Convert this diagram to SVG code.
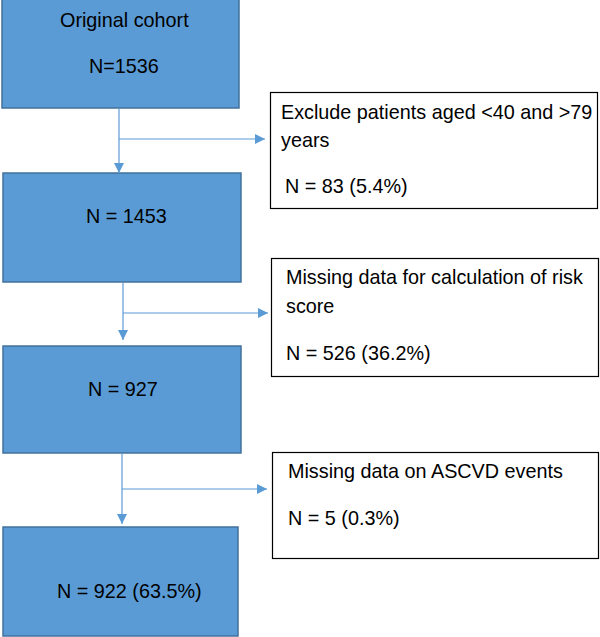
<svg xmlns="http://www.w3.org/2000/svg" width="600" height="637" viewBox="0 0 600 637">
<defs>
<style>
.main{fill:#5b9bd5;stroke:#41719c;stroke-width:1.5}
.side{fill:#ffffff;stroke:#000000;stroke-width:1.2}
.t{font-family:"Liberation Sans",Arial,sans-serif;font-size:19.8px;fill:#000000}
.c{fill:none;stroke:#5b9bd5;stroke-width:1.2}
</style>
<marker id="ah" viewBox="0 0 10 10" refX="10" refY="5" markerWidth="10" markerHeight="10" markerUnits="userSpaceOnUse" orient="auto">
<path d="M0,0 L10,5 L0,10 Z" fill="#5b9bd5"/>
</marker>
</defs>
<rect width="600" height="637" fill="#ffffff"/>
<g id="n1">
<rect class="main" x="2" y="-2" width="237" height="110"/>
<text class="t" x="60" y="27">Original cohort</text>
<text class="t" x="89" y="73">N=1536</text>
</g>
<g id="x1">
<rect class="side" x="270.5" y="92.5" width="327" height="116"/>
<text class="t" x="281" y="119">Exclude patients aged &lt;40 and &gt;79</text>
<text class="t" x="281" y="147">years</text>
<text class="t" x="285" y="193">N = 83 (5.4%)</text>
</g>
<g id="n2">
<rect class="main" x="3" y="173" width="238" height="109"/>
<text class="t" x="86" y="223">N = 1453</text>
</g>
<g id="x2">
<rect class="side" x="271.5" y="258.5" width="327" height="118"/>
<text class="t" x="286" y="284">Missing data for calculation of risk</text>
<text class="t" x="286" y="313">score</text>
<text class="t" x="286" y="360">N = 526 (36.2%)</text>
</g>
<g id="n3">
<rect class="main" x="3" y="346" width="238" height="107"/>
<text class="t" x="88" y="396">N = 927</text>
</g>
<g id="x3">
<rect class="side" x="272.5" y="452.5" width="326" height="106"/>
<text class="t" x="288" y="478">Missing data on ASCVD events</text>
<text class="t" x="288" y="525">N = 5 (0.3%)</text>
</g>
<g id="n4">
<rect class="main" x="3" y="527" width="235" height="109"/>
<text class="t" x="57" y="598">N = 922 (63.5%)</text>
</g>
<g id="connectors">
<line class="c" x1="119" y1="109" x2="119" y2="173" marker-end="url(#ah)"/>
<line class="c" x1="119" y1="139" x2="265" y2="139" marker-end="url(#ah)"/>
<line class="c" x1="123" y1="283" x2="123" y2="340" marker-end="url(#ah)"/>
<line class="c" x1="123" y1="313" x2="268" y2="313" marker-end="url(#ah)"/>
<line class="c" x1="122" y1="454" x2="122" y2="524" marker-end="url(#ah)"/>
<line class="c" x1="122" y1="489" x2="267" y2="489" marker-end="url(#ah)"/>
</g>
</svg>
